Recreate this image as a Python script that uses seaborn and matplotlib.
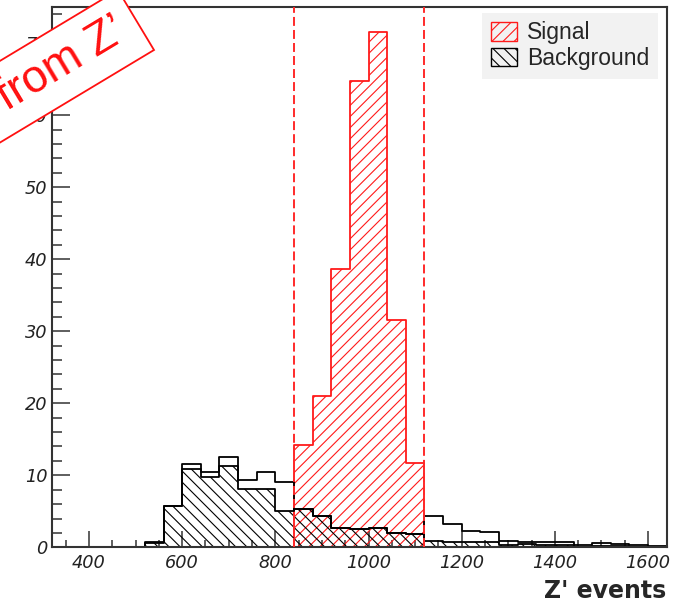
import numpy as np
import pandas as pd
import matplotlib
matplotlib.use("Agg")
import matplotlib.pyplot as plt
from matplotlib.patches import Patch, Polygon
from matplotlib.ticker import MultipleLocator
import seaborn as sns

# Binning of the invariant-mass histograms: 40 GeV bins from 320 to 1640
bin_start = 320
bin_width = 40
n_bins = 33

# Background before the selection (open black outline)
background_all = [0, 0, 0, 0, 0, 0.8, 5.8, 11.6, 10.4, 12.5, 9.3, 10.5, 9.0,
                  5.3, 4.3, 2.7, 2.5, 2.7, 2.0, 1.8,
                  4.3, 3.3, 2.3, 2.1, 0.9, 0.8, 0.75, 0.7, 0.3, 0.6, 0.5, 0.3, 0.2]
# Background after the selection (hatched)
background_sel = [0, 0, 0, 0, 0, 0.6, 5.8, 10.9, 9.8, 11.3, 8.1, 8.1, 5.0,
                  5.3, 4.3, 2.7, 2.5, 2.7, 2.0, 1.8,
                  0.9, 0.8, 0.8, 0.7, 0.3, 0.4, 0.3, 0.3, 0.1, 0.2, 0.2, 0.1, 0.1]
# Signal inside the mass window
signal_first_bin = 13
signal = [14.2, 21.0, 38.6, 64.8, 71.5, 31.5, 11.7]
mass_window = [840, 1120]

x_range = [320, 1640]
y_range = [0, 75]
legend_labels = ["Signal", "Background"]
x_title = "Z' events"
stamp_text = "from Z\u2019"

sns.set_style("ticks")
plt.rcParams["font.family"] = ["Liberation Sans", "DejaVu Sans"]
plt.rcParams["hatch.linewidth"] = 0.8

SIG_RED = "#ff1a1a"

W, H = 685, 602
fig = plt.figure(figsize=(W / 100, H / 100), dpi=100)
ax = fig.add_axes([51.7 / W, 1 - 547.3 / H, (666.7 - 51.7) / W, (547.3 - 7.3) / H])

edges = [bin_start + bin_width * i for i in range(n_bins + 1)]
centers = [e + bin_width / 2 for e in edges[:-1]]
bkg = pd.DataFrame({"mass": centers, "all": background_all, "sel": background_sel})
sig_edges = edges[signal_first_bin:signal_first_bin + len(signal) + 1]
sig = pd.DataFrame({"mass": [e + bin_width / 2 for e in sig_edges[:-1]], "n": signal})

sns.histplot(data=sig, x="mass", weights="n", bins=sig_edges, element="step",
             fill=True, color=SIG_RED, facecolor="none", edgecolor=SIG_RED,
             hatch="///", linewidth=1.3, ax=ax)
sns.histplot(data=bkg, x="mass", weights="sel", bins=edges, element="step",
             fill=True, color="black", facecolor="none", edgecolor="black",
             hatch="\\\\\\", linewidth=1.3, ax=ax)
sns.histplot(data=bkg, x="mass", weights="all", bins=edges, element="step",
             fill=False, color="black", linewidth=1.3, ax=ax)

for xc in mass_window:
    ax.axvline(xc, color="#ff2a2a", linewidth=1.4, linestyle=(0, (4.6, 2.1)), zorder=5)

ax.set_xlim(*x_range)
ax.set_ylim(*y_range)
ax.set_ylabel("")
ax.set_xlabel(x_title, loc="right", fontsize=17, fontweight="bold",
              family="DejaVu Sans", labelpad=5)

ax.xaxis.set_major_locator(MultipleLocator(200))
ax.xaxis.set_minor_locator(MultipleLocator(50))
ax.yaxis.set_major_locator(MultipleLocator(10))
ax.yaxis.set_minor_locator(MultipleLocator(2))
ax.tick_params(axis="both", which="both", direction="in", top=False, right=False,
               color="#333333", width=1.1, labelcolor="#222222")
ax.tick_params(axis="x", which="major", length=11.5, pad=5)
ax.tick_params(axis="x", which="minor", length=5)
ax.tick_params(axis="y", which="major", length=13, pad=3)
ax.tick_params(axis="y", which="minor", length=7)
for lab in ax.get_xticklabels() + ax.get_yticklabels():
    lab.set_family("DejaVu Sans")
    lab.set_fontstyle("oblique")
    lab.set_fontsize(12.8)
for sp in ax.spines.values():
    sp.set_visible(True)
    sp.set_color("#333333")
    sp.set_linewidth(1.5)

handles = [Patch(facecolor="none", edgecolor=SIG_RED, hatch="///", linewidth=1.0, label=legend_labels[0]),
           Patch(facecolor="none", edgecolor="black", hatch="\\\\\\", linewidth=1.0, label=legend_labels[1])]
ax.legend(handles=handles, loc="upper right", bbox_to_anchor=(0.986, 0.990),
          frameon=True, fancybox=False, framealpha=1, facecolor="#f2f2f2",
          edgecolor="none", fontsize=16.5, handlelength=1.13, handleheight=0.85,
          handletextpad=0.45, borderpad=0.38, labelspacing=0.12, borderaxespad=0)

# Rotated red stamp in the upper-left corner (figure pixel geometry)
ang = np.deg2rad(31.0)
u = np.array([np.cos(ang), np.sin(ang)])        # along the stamp (display coords, y up)
n = np.array([-np.sin(ang), np.cos(ang)])       # across the stamp
br = np.array([154.0, H - 50.0])
box_h = 70.0
corners = [br, br + box_h * n, br + box_h * n - 320 * u, br - 320 * u]
fig.add_artist(Polygon([(c[0] / W, c[1] / H) for c in corners], closed=True,
                       transform=fig.transFigure, facecolor="white",
                       edgecolor="#ff1010", linewidth=1.3, zorder=10))
center = br - 86.0 * u + 35.0 * n
fig.text(center[0] / W, center[1] / H, stamp_text, rotation=31, rotation_mode="anchor",
         ha="center", va="center", color="#ff1010", fontsize=33, zorder=11)

fig.savefig("out.png", dpi=100)
